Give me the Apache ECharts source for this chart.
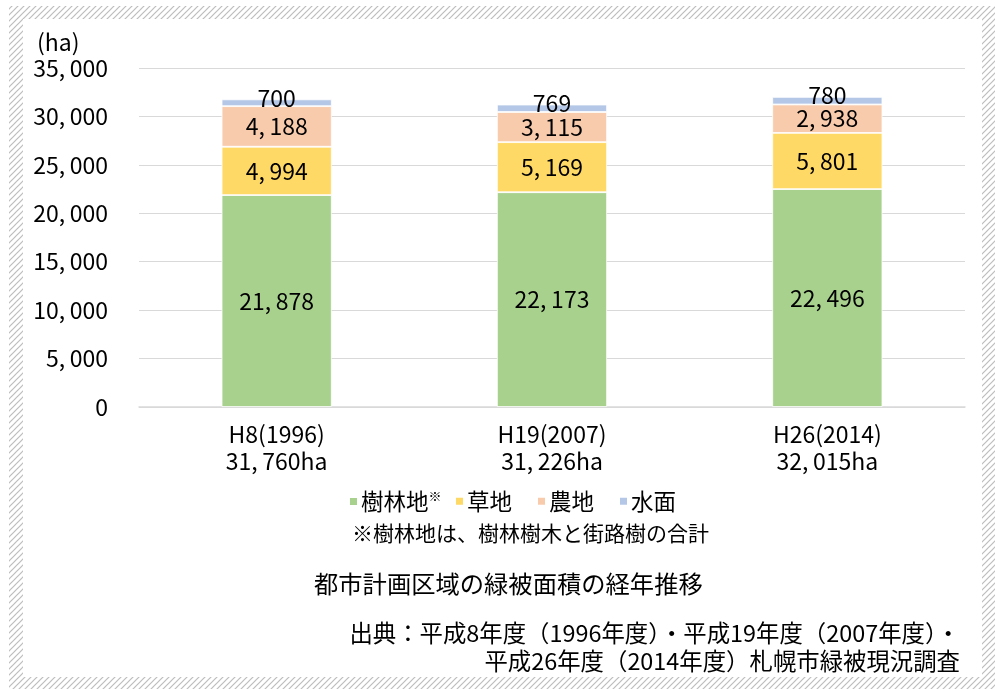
<!DOCTYPE html>
<html><head><meta charset="utf-8">
<script src="https://cdn.jsdelivr.net/npm/echarts@6/dist/echarts.min.js"></script>
<style>html,body{margin:0;padding:0;background:#fff;}#c{width:995px;height:689px;}</style>
</head><body><div id="c"></div>
<script>
const categories = ['H8(1996)', 'H19(2007)', 'H26(2014)'];
const forest = [21878, 22173, 22496];
const grass = [4994, 5169, 5801];
const farm = [4188, 3115, 2938];
const water = [700, 769, 780];
const seriesNames = ['樹林地', '草地', '農地', '水面'];
const yTicks = { min: 0, max: 35000, interval: 5000 };

const NUM = "'Noto Sans CJK JP','Noto Sans',sans-serif";
const JP = "'Noto Sans CJK JP',sans-serif";
const fmt = v => String(v).replace(/\B(?=(\d{3})+(?!\d))/g, ',\u2009');
const totals = categories.map((c, i) => forest[i] + grass[i] + farm[i] + water[i]);
const xLabels = categories.map((c, i) => c + '\n' + fmt(totals[i]) + 'ha');

// hatch pattern
const pc = document.createElement('canvas');
pc.width = 6; pc.height = 6;
const g = pc.getContext('2d');
g.strokeStyle = '#bdbdbd'; g.lineWidth = 1.2;
g.beginPath(); g.moveTo(-1, 7); g.lineTo(7, -1); g.stroke();
g.beginPath(); g.moveTo(-1, 1); g.lineTo(1, -1); g.stroke();
g.beginPath(); g.moveTo(5, 7); g.lineTo(7, 5); g.stroke();

const colors = ['#A9D18E', '#FFD966', '#F8CBAD', '#B4C7E7'];
const lbl = { show: true, position: 'inside', color: '#000', fontFamily: NUM, fontSize: 23, formatter: p => fmt(p.value) };
function mk(name, data, color, extra) {
  return Object.assign({
    name, type: 'bar', stack: 'a', data, barWidth: '40%',
    itemStyle: { color, borderColor: '#fff', borderWidth: 0.8 },
    label: lbl, emphasis: { disabled: true }
  }, extra || {});
}
function leg(name, left) {
  return {
    data: [name], left, top: 485, itemWidth: 9, itemHeight: 9, icon: 'rect', itemGap: 0,
    textStyle: {
      fontFamily: JP, fontSize: 22.5, color: '#000', padding: [0, 0, 0, -2],
      rich: { s: { fontFamily: JP, fontSize: 13, color: '#000', verticalAlign: 'top', padding: [0, 0, 10, 0] } }
    },
    formatter: n => n === '樹林地' ? '樹林地{s|※}' : n,
    selectedMode: false
  };
}
const chart = echarts.init(document.getElementById('c'), null, { renderer: 'canvas' });
chart.setOption({
  backgroundColor: '#fff',
  animation: false,
  grid: { left: 139, right: 30, top: 68, bottom: 282 },
  xAxis: {
    type: 'category', data: xLabels,
    axisLine: { lineStyle: { color: '#d9d9d9', width: 1.5 } },
    axisTick: { show: false },
    axisLabel: { color: '#000', fontFamily: NUM, fontSize: 23, lineHeight: 27, margin: 14 }
  },
  yAxis: {
    type: 'value', min: yTicks.min, max: yTicks.max, interval: yTicks.interval,
    axisLine: { show: false }, axisTick: { show: false },
    splitLine: { lineStyle: { color: '#d9d9d9', width: 1 } },
    axisLabel: { color: '#000', fontFamily: NUM, fontSize: 23, margin: 31, formatter: v => fmt(v) }
  },
  legend: [leg('樹林地', 343), leg('草地', 449), leg('農地', 531), leg('水面', 613)],
  series: [
    mk(seriesNames[0], forest, colors[0]),
    mk(seriesNames[1], grass, colors[1]),
    mk(seriesNames[2], farm, colors[2]),
    mk(seriesNames[3], water, colors[3], { label: Object.assign({}, lbl, { offset: [0, -5] }) })
  ],
  graphic: [
    { type: 'rect', silent: true, z: -10, shape: { x: 9, y: 6, width: 986, height: 683 },
      style: { fill: { image: pc, repeat: 'repeat' } } },
    { type: 'rect', silent: true, z: -9, shape: { x: 23, y: 19, width: 959, height: 658 }, style: { fill: '#fff' } },
    { type: 'text', x: 37, y: 42, style: { text: '(ha)', fill: '#000', font: "23px " + NUM, verticalAlign: 'middle' } },
    { type: 'text', x: 352, y: 533, style: { text: '※樹林地は、樹林樹木と街路樹の合計', fill: '#000', font: "21px " + JP, verticalAlign: 'middle' } },
    { type: 'text', x: 314, y: 584, style: { text: '都市計画区域の緑被面積の経年推移', fill: '#000', font: "24.3px " + JP, verticalAlign: 'middle' } },
    { type: 'text', x: 960, y: 633, style: { text: '出典：平成8年度（1996年度）・平成19年度（2007年度）・', fill: '#000', font: "23.4px " + JP, align: 'right', verticalAlign: 'middle' } },
    { type: 'text', x: 960, y: 661, style: { text: '平成26年度（2014年度）札幌市緑被現況調査', fill: '#000', font: "23.4px " + JP, align: 'right', verticalAlign: 'middle' } }
  ]
});
</script></body></html>
